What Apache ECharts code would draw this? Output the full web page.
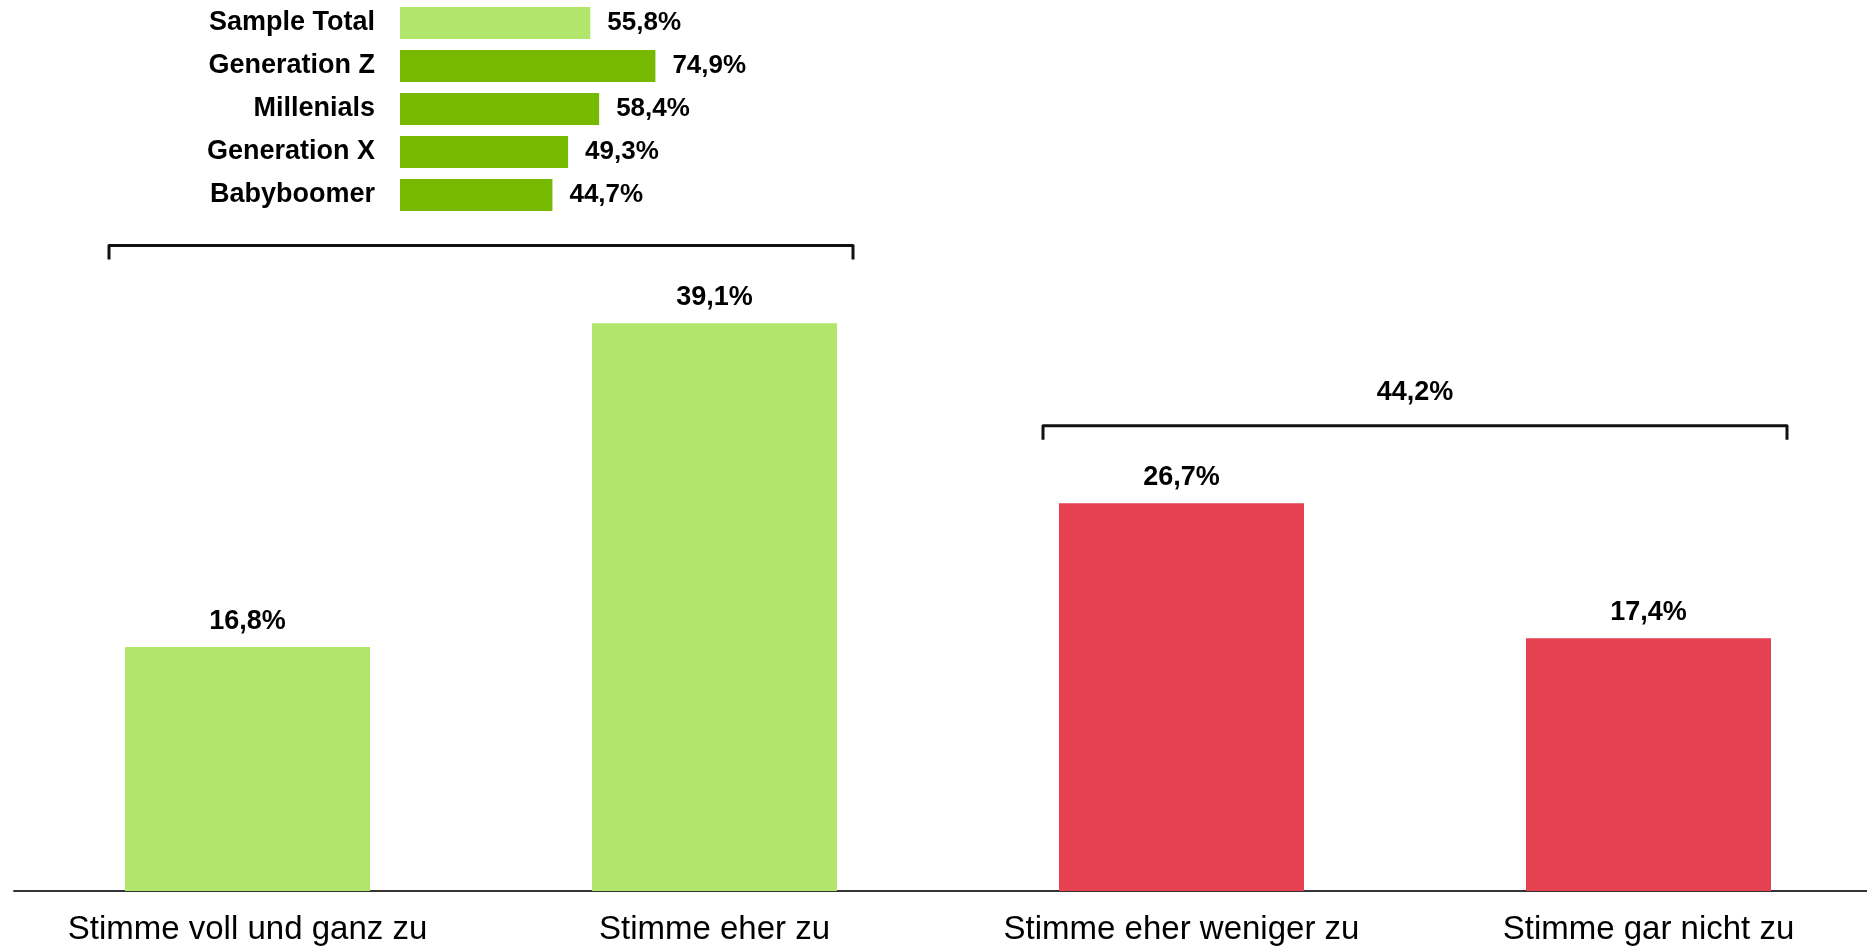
<!DOCTYPE html>
<html>
<head>
<meta charset="utf-8">
<script src="https://cdn.jsdelivr.net/npm/echarts@6/dist/echarts.min.js"></script>
<style>
html,body{margin:0;padding:0;background:#fff;}
#chart{width:1867px;height:948px;}
</style>
</head>
<body>
<div id="chart"></div>
<script>
// Main chart data
const categories = ['Stimme voll und ganz zu', 'Stimme eher zu', 'Stimme eher weniger zu', 'Stimme gar nicht zu'];
const values = [16.8, 39.1, 26.7, 17.4];
// Bracket groups (category index ranges) and their labels
const bracketStart = [0, 2];
const bracketEnd = [1, 3];
const bracketLabels = [null, 44.2];
// Inset chart data
const insetCategories = ['Sample Total', 'Generation Z', 'Millenials', 'Generation X', 'Babyboomer'];
const insetValues = [55.8, 74.9, 58.4, 49.3, 44.7];

const LIGHT = '#B2E56B', DARK = '#77B900', RED = '#E64150';
const FONT = '"Liberation Sans", Arial, Helvetica, sans-serif';
const fmt = v => v.toFixed(1).replace('.', ',') + '%';
const barColors = [LIGHT, LIGHT, RED, RED];
const BAR_W = 245;

const bracketData = bracketStart.map((s, i) => {
  const e = bracketEnd[i];
  let m = -Infinity;
  for (let k = s; k <= e; k++) m = Math.max(m, values[k]);
  return [s, e, m + 5.35, bracketLabels[i] == null ? '' : fmt(bracketLabels[i])];
});

const chart = echarts.init(document.getElementById('chart'));
chart.setOption({
  animation: false,
  backgroundColor: '#fff',
  textStyle: {fontFamily: FONT},
  grid: [
    {left: 14, width: 1868, top: 19.8, bottom: 57, containLabel: false, outerBoundsMode: 'none'},
    {left: 400, width: 341, top: 1.5, height: 215, containLabel: false, outerBoundsMode: 'none'}
  ],
  xAxis: [
    {
      type: 'category', gridIndex: 0, data: categories,
      axisLine: {show: true, lineStyle: {color: '#333', width: 2}},
      axisTick: {show: false},
      axisLabel: {color: '#000', fontSize: 33, fontFamily: FONT, margin: 22, interval: 0}
    },
    {type: 'value', gridIndex: 1, min: 0, max: 100, show: false}
  ],
  yAxis: [
    {type: 'value', gridIndex: 0, min: 0, max: 60, show: false},
    {
      type: 'category', gridIndex: 1, data: insetCategories, inverse: true,
      axisLine: {show: false}, axisTick: {show: false},
      axisLabel: {color: '#000', fontSize: 27, fontWeight: 'bold', fontFamily: FONT, margin: 25}
    }
  ],
  series: [
    {
      type: 'bar', xAxisIndex: 0, yAxisIndex: 0,
      barWidth: BAR_W,
      data: values.map((v, i) => ({value: v, itemStyle: {color: barColors[i]}})),
      label: {
        show: true, position: 'top', distance: 12,
        color: '#000', fontSize: 27, fontWeight: 'bold', fontFamily: FONT,
        formatter: p => fmt(p.value)
      }
    },
    {
      type: 'custom', xAxisIndex: 0, yAxisIndex: 0, clip: false,
      encode: {x: [0, 1], y: 2},
      data: bracketData,
      renderItem: function (params, api) {
        const p0 = api.coord([api.value(0), api.value(2)]);
        const p1 = api.coord([api.value(1), api.value(2)]);
        const h = BAR_W / 2 + 16;
        const drop = 14;
        const x0 = p0[0] - h, x1 = p1[0] + h, y = p0[1];
        const children = [{
          type: 'polyline',
          shape: {points: [[x0, y + drop], [x0, y], [x1, y], [x1, y + drop]]},
          style: {stroke: '#111', lineWidth: 3, fill: null, lineJoin: 'round'}
        }];
        const lbl = bracketData[params.dataIndex][3];
        if (lbl) {
          children.push({
            type: 'text',
            style: {
              text: lbl, x: (x0 + x1) / 2, y: y - 20,
              textAlign: 'center', textVerticalAlign: 'bottom',
              fill: '#000', font: 'bold 27px ' + FONT
            }
          });
        }
        return {type: 'group', children: children};
      }
    },
    {
      type: 'bar', xAxisIndex: 1, yAxisIndex: 1,
      barWidth: 32,
      data: insetValues.map((v, i) => ({value: v, itemStyle: {color: i === 0 ? LIGHT : DARK}})),
      label: {
        show: true, position: 'right', distance: 17,
        color: '#000', fontSize: 26, fontWeight: 'bold', fontFamily: FONT,
        formatter: p => fmt(p.value)
      }
    }
  ]
});
</script>
</body>
</html>
